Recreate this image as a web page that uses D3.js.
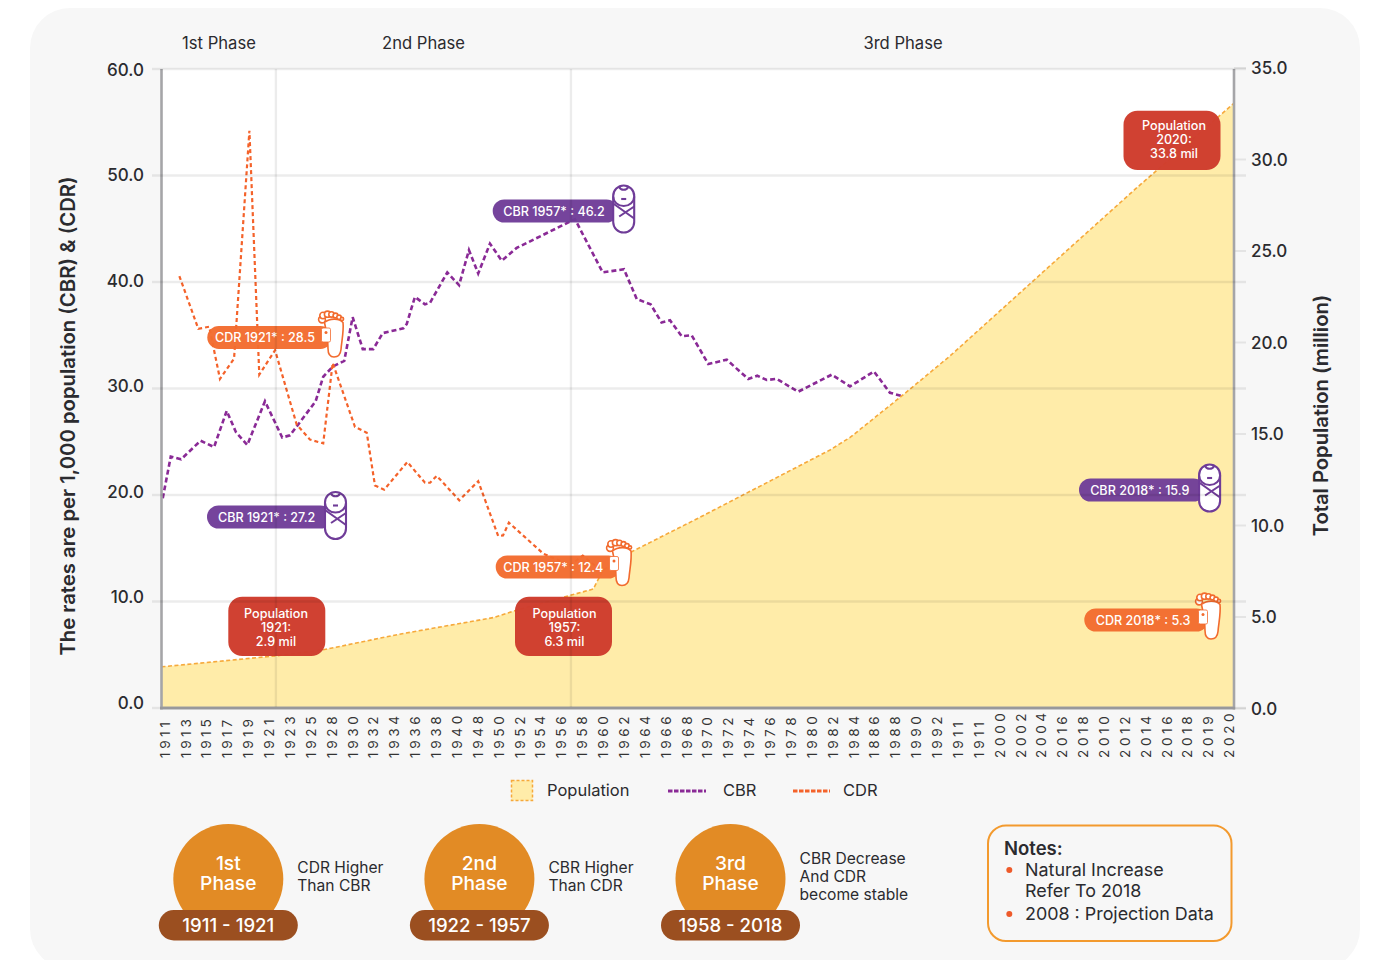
<!DOCTYPE html>
<html><head><meta charset="utf-8">
<script src="https://cdn.jsdelivr.net/npm/d3@7"></script>
<style>
html,body{margin:0;padding:0;background:#fff;overflow:hidden}
svg{display:block}
text{font-family:Inter,"Noto Sans",sans-serif;fill:#2b2b2f}
</style></head><body><svg id="c" width="1374" height="960"></svg>
<script>
const tickLabels=["1911","1913","1915","1917","1919","1921","1923","1925","1928","1930","1932","1934","1936","1938","1940","1948","1950","1952","1954","1956","1958","1960","1962","1964","1966","1968","1970","1972","1974","1976","1978","1980","1982","1984","1886","1988","1990","1992","1911","1911","2000","2002","2004","2016","2018","2010","2012","2014","2016","2018","2019","2020"];
const leftTicks=[0,10,20,30,40,50,60];
const rightTicks=[0,5,10,15,20,25,30,35];
// series: position along the tick row (0 = first tick), value
const cbrPos=[0.06,0.44,0.93,1.86,2.5,3.1,3.54,4.08,4.92,5.74,6.11,7.33,7.69,8.14,8.69,9.09,9.57,10.07,10.52,11.5,11.66,12.05,12.53,12.77,13.59,14.15,14.62,15.06,15.62,16.18,16.89,19.66,20.98,21.99,22.6,23.26,23.78,24.18,24.74,25.21,26.0,26.88,27.9,28.33,28.78,29.25,30.28,31.87,32.74,33.88,34.64,35.2,49.5];
const cbrVal=[19.7,23.6,23.35,25.1,24.5,27.9,25.9,24.7,28.8,25.4,25.6,28.8,31.1,32.05,32.6,36.7,33.7,33.7,35.2,35.65,36.05,38.6,37.9,38.05,40.9,39.7,43.0,40.8,43.6,42.0,43.2,45.9,40.9,41.2,38.4,37.9,36.2,36.4,34.9,35.0,32.3,32.7,30.9,31.2,30.8,30.9,29.7,31.3,30.2,31.6,29.6,29.3,15.9];
const cdrPos=[0.85,1.75,2.27,2.78,3.45,4.18,4.65,5.4,6.43,7.06,7.69,8.14,9.2,9.76,10.15,10.59,11.69,12.53,12.77,13.09,14.16,15.06,16.01,16.24,16.52,18.15,19.42,20.03,20.85,21.56,49.5];
const cdrVal=[40.56,35.6,35.8,30.9,32.8,54.2,31.3,33.6,26.6,25.2,24.85,32.4,26.4,25.85,20.9,20.5,23.1,21.15,21.15,21.8,19.5,21.3,16.15,16.2,17.4,14.5,13.4,14.3,13.0,12.5,5.3];
const popPos=[0,5.44,7.69,11.3,15.78,16.89,20.53,21.0,22.36,25.6,31.79,32.76,35.2,37.5,41.8,46.3,51];
const popVal=[2.25,2.85,3.18,4.03,4.94,5.35,6.5,7.54,8.54,10.42,14.1,14.8,17.05,19.24,23.7,28.35,33.05];
const phaseHeads=["1st Phase","2nd Phase","3rd Phase"];
const phaseYears=["1911 - 1921","1922 - 1957","1958 - 2018"];
const phaseNames=["1st","2nd","3rd"];
const phaseNotes=[["CDR Higher","Than CBR"],["CBR Higher","Than CDR"],["CBR Decrease","And CDR","become stable"]];
const refLines=[5.44,19.47];
const C={cbr:"#8a2a96",cdr:"#f4622a",pill1:"#6f3c98",pill2:"#f26b2e",red:"#cf3d2e",area:"#ffeca9",areaL:"#f6a93b",grid:"rgba(0,0,0,.075)",axis:"#a5a5a8"};

const svg=d3.select("#c");
svg.append("rect").attr("x",30).attr("y",8).attr("width",1330).attr("height",961).attr("rx",40).attr("fill","#f7f7f7");
svg.append("rect").attr("x",161.5).attr("y",69).attr("width",1072.5).attr("height",639).attr("fill","#fff");

const x=d3.scaleLinear().domain([0,51]).range([161.5,1234]);
const yL=d3.scaleLinear().domain([0,60]).range([708,69]);
const yLabel=d3.scaleLinear().domain([0,60]).range([703,70]);
const yR=d3.scaleLinear().domain([0,35]).range([708,67.5]);
const xTick=d3.scalePoint().domain(d3.range(tickLabels.length)).range([164.5,1229]);

const zip=(a,b)=>a.map((d,i)=>[d,b[i]]);
const lineL=d3.line().x(d=>x(d[0])).y(d=>yL(d[1]));
svg.append("path").attr("d",lineL(zip(cbrPos,cbrVal))).attr("fill","none").attr("stroke",C.cbr).attr("stroke-width",2.6).attr("stroke-dasharray","5 3");
svg.append("path").attr("d",lineL(zip(cdrPos,cdrVal))).attr("fill","none").attr("stroke",C.cdr).attr("stroke-width",2.2).attr("stroke-dasharray","4 3");
const pop=zip(popPos,popVal);
svg.append("path").attr("d",d3.area().x(d=>x(d[0])).y0(yR(0)).y1(d=>yR(d[1]))(pop)).attr("fill",C.area);
svg.append("path").attr("d",d3.line().x(d=>x(d[0])).y(d=>yR(d[1]))(pop)).attr("fill","none").attr("stroke",C.areaL).attr("stroke-width",1.6).attr("stroke-dasharray","4 2.5");

// axes
const gL=svg.append("g").attr("transform","translate(161.5,0)").call(d3.axisLeft(yLabel).tickValues(leftTicks).tickFormat(d3.format(".1f")).tickSize(0).tickPadding(17.5));
gL.select(".domain").remove();
gL.selectAll("text").attr("font-size",17).attr("font-weight",500).style("font-family","Inter").style("fill","#2b2b2f");
const gR=svg.append("g").attr("transform","translate(1234,0)").call(d3.axisRight(yR).tickValues(rightTicks).tickFormat(d3.format(".1f")).tickSize(12).tickPadding(5));
gR.select(".domain").remove();
gR.selectAll("line").attr("stroke",C.grid).attr("stroke-width",2);
gR.selectAll("text").attr("y",0.6).attr("font-size",17).attr("font-weight",500).style("font-family","Inter").style("fill","#2b2b2f");
const gB=svg.append("g").attr("transform","translate(0,708)").call(d3.axisBottom(xTick).tickFormat(i=>tickLabels[i]).tickSize(0));
gB.select(".domain").remove();
gB.selectAll("text").attr("transform","translate(0,0) rotate(-90)").attr("x",-50).attr("y",0).attr("dy","0.35em").attr("text-anchor","start")
  .attr("font-size",13.5).attr("letter-spacing",3.7).style("font-family","Inter").style("fill","#333");

const base=svg.append("g");
base.append("line").attr("x1",161.5).attr("x2",161.5).attr("y1",69).attr("y2",709.5).attr("stroke",C.axis).attr("stroke-width",2.6);
base.append("line").attr("x1",1234).attr("x2",1234).attr("y1",69).attr("y2",709.5).attr("stroke",C.axis).attr("stroke-width",2.6);
base.append("line").attr("x1",160).attr("x2",1235).attr("y1",708).attr("y2",708).attr("stroke",C.axis).attr("stroke-width",3);

function txt(t,xx,yy,size,opt={}){
  return svg.append("text").text(t).attr("x",xx).attr("y",yy).attr("dy","0.36em").attr("font-size",size)
    .attr("font-weight",opt.w||400).attr("text-anchor",opt.a||"start").style("fill",opt.c||"#2b2b2f");
}
phaseHeads.forEach((t,i)=>txt(t,[219,423.5,903][i],43,16.6,{a:"middle"}));
function vTitle(t,xx,yy,size){svg.append("text").text(t).attr("transform",`translate(${xx},${yy}) rotate(-90)`).attr("text-anchor","middle").attr("dy","0.36em").attr("font-size",size).attr("font-weight",600);}
vTitle("The rates are per 1,000 population (CBR) & (CDR)",68,416,20.3);
vTitle("Total Population (million)",1321,415.5,20.2);

// icons
function baby(cx,top){
  const w=21,h=47,g=svg.append("g").attr("transform",`translate(${cx-w/2},${top})`).attr("fill","none").attr("stroke",C.pill1).attr("stroke-width",2.1);
  g.append("rect").attr("width",w).attr("height",h).attr("rx",w/2).attr("fill","#fff");
  g.append("path").attr("d",`M0,11 A${w/2},9.5 0 0 0 ${w},11`);
  g.append("path").attr("d",`M6,1.5 A5,5 0 0 0 15,1.5`);
  g.append("line").attr("x1",8).attr("x2",13).attr("y1",13.5).attr("y2",13.5);
  g.append("path").attr("d",`M0,18 L${w},33 M${w},21 L6,31`);
}
function foot(cx,top){
  const g=svg.append("g").attr("transform",`translate(${cx-12.5},${top})`).attr("stroke",C.pill2).attr("stroke-width",1.6).attr("fill","#fff");
  [[3.5,8,3.4],[4.5,4,3.2],[9,2.7,3.1],[13,2.9,2.7],[17,4,2.4],[20.5,5.8,2.2],[23.5,7.5,1.6]].forEach(t=>g.append("circle").attr("cx",t[0]).attr("cy",t[1]).attr("r",t[2]));
  g.append("path").attr("d","M6,11 C12,6 21,7 24.5,11 C25.5,20 23,30 22.5,38 C22,43 19,45.5 15.5,45.5 C11,45.5 9.5,42 9.5,37 C9.5,29 8,20 6,11 Z");
  g.append("rect").attr("x",3).attr("y",16.5).attr("width",9).attr("height",14).attr("rx",1.5).attr("stroke-width",.8);
  g.append("circle").attr("cx",7.5).attr("cy",21).attr("r",1.5).attr("fill",C.pill2).attr("stroke","none");
}
function pill(l,r,cy,col,label,tc){
  svg.append("rect").attr("x",l).attr("y",cy-11.5).attr("width",r-l).attr("height",23).attr("rx",11.5).attr("fill",col).attr("opacity",.96);
  txt(label,tc,cy,12.6,{a:"middle",c:"#fff",w:500});
}
pill(207.3,332,337.4,C.pill2,"CDR 1921* : 28.5",265); foot(331,311.5);
pill(207,332,517,C.pill1,"CBR 1921* : 27.2",266.7); baby(335.5,492);
pill(492.7,618,211,C.pill1,"CBR 1957* : 46.2",554); baby(623.7,185.5);
pill(495.7,620,567,C.pill2,"CDR 1957* : 12.4",553.3); foot(619,540);
pill(1079,1205,490,C.pill1,"CBR 2018* : 15.9",1139.8); baby(1209.6,464.5);
pill(1084.3,1208,620,C.pill2,"CDR 2018* : 5.3",1143); foot(1208,593.5);

function redBox(l,t,lines,tx,ty){
  svg.append("rect").attr("x",l).attr("y",t).attr("width",97).attr("height",59.3).attr("rx",14).attr("fill",C.red).attr("opacity",.98);
  lines.forEach((s,i)=>txt(s,tx,ty+i*13.8,12.6,{a:"middle",c:"#fff",w:500}));
}
redBox(228.3,596.7,["Population","1921:","2.9 mil"],276,613.5);
redBox(515,596.7,["Population","1957:","6.3 mil"],564.5,613.5);
redBox(1123.5,110.7,["Population","2020:","33.8 mil"],1174,125.5);

// grid over everything
const grid=svg.append("g").attr("stroke",C.grid).attr("stroke-width",2.4);
leftTicks.forEach(v=>grid.append("line").attr("x1",152).attr("x2",1246).attr("y1",yL(v)).attr("y2",yL(v)));
refLines.forEach(v=>grid.append("line").attr("x1",x(v)).attr("x2",x(v)).attr("y1",69).attr("y2",707));

// legend
svg.append("rect").attr("x",511.5).attr("y",780.5).attr("width",21).attr("height",20).attr("fill",C.area).attr("stroke",C.areaL).attr("stroke-width",1.5).attr("stroke-dasharray","3 2");
txt("Population",547,790,16.5);
svg.append("line").attr("x1",668).attr("x2",706).attr("y1",791).attr("y2",791).attr("stroke",C.cbr).attr("stroke-width",3).attr("stroke-dasharray","4.5 1.5");
txt("CBR",723,790,16.5);
svg.append("line").attr("x1",793).attr("x2",830).attr("y1",791).attr("y2",791).attr("stroke",C.cdr).attr("stroke-width",3).attr("stroke-dasharray","4.5 1.5");
txt("CDR",843,790,16.5);

// phase badges
[228.3,479.4,730.5].forEach((cx,i)=>{
  svg.append("circle").attr("cx",cx).attr("cy",879).attr("r",55).attr("fill","#e28b25");
  svg.append("rect").attr("x",cx-69.5).attr("y",910).attr("width",139).attr("height",30.5).attr("rx",15).attr("fill","#9b4f20");
  txt(phaseNames[i],cx,863,19.2,{a:"middle",c:"#fff",w:500});
  txt("Phase",cx,883,19.2,{a:"middle",c:"#fff",w:500});
  txt(phaseYears[i],cx,925,18.6,{a:"middle",c:"#fff",w:500});
  const n=phaseNotes[i];
  n.forEach((s,j)=>txt(s,cx+69,(n.length===2?867:858)+j*18.2,15.6,{}));
});

// notes
svg.append("rect").attr("x",988).attr("y",825.5).attr("width",243.5).attr("height",115.5).attr("rx",18).attr("fill","none").attr("stroke","#f39a2e").attr("stroke-width",2);
txt("Notes:",1004,848,18.5,{w:600});
[[870],[914]].forEach(a=>svg.append("circle").attr("cx",1009.3).attr("cy",a[0]).attr("r",3).attr("fill","#ee5a2a"));
txt("Natural Increase",1025,869.5,17.9);
txt("Refer To 2018",1025,891,17.9);
txt("2008 : Projection Data",1025,913.5,17.9);
</script></body></html>
